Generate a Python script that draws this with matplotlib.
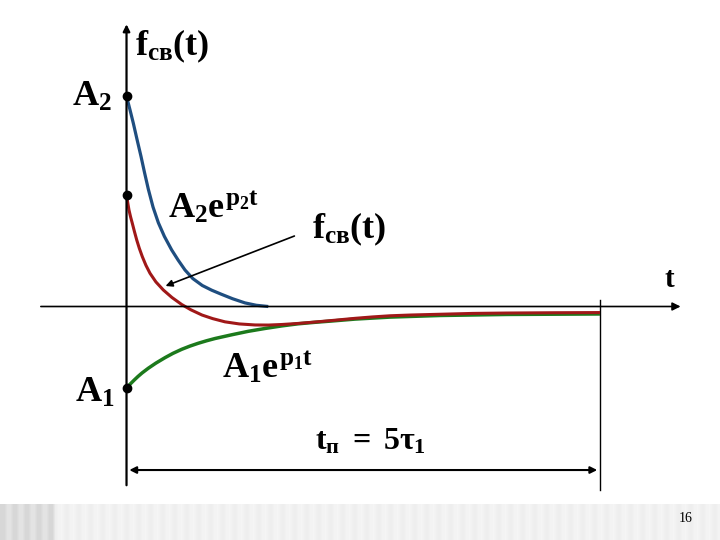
import numpy as np
import matplotlib
matplotlib.use("Agg")
import matplotlib.pyplot as plt

plt.rcParams["font.family"] = ["Liberation Serif", "DejaVu Serif"]
plt.rcParams["mathtext.fontset"] = "custom"
plt.rcParams["mathtext.rm"] = "Liberation Serif:bold"
plt.rcParams["mathtext.it"] = "Liberation Serif:bold"
plt.rcParams["mathtext.bf"] = "Liberation Serif:bold"

# ── curve samples (t in tau_1, f in same units) ──
t_blue = [0.0, 0.036, 0.072, 0.112, 0.153, 0.19, 0.230, 0.28, 0.336, 0.40,
          0.477, 0.545, 0.618, 0.70, 0.80, 0.90, 1.0, 1.12, 1.251, 1.37, 1.497]
f_blue = [2.22, 2.08, 1.935, 1.76, 1.585, 1.415, 1.240, 1.05, 0.885, 0.74,
          0.597, 0.49, 0.385, 0.295, 0.222, 0.172, 0.130, 0.082, 0.038, 0.013, 0.0]

t_red = [0.0, 0.013, 0.026, 0.043, 0.061, 0.084, 0.108, 0.135, 0.167, 0.205,
         0.248, 0.31, 0.389, 0.48, 0.583, 0.68, 0.797, 0.91, 1.040, 1.19,
         1.357, 1.50, 1.642, 1.81, 1.991, 2.2, 2.413, 2.6, 2.783, 3.0,
         3.310, 3.659, 4.018, 4.5, 5.0]
f_red = [1.177, 1.095, 1.019, 0.946, 0.879, 0.79, 0.702, 0.615, 0.526, 0.435,
         0.351, 0.26, 0.174, 0.095, 0.021, -0.035, -0.090, -0.128, -0.162, -0.184,
         -0.195, -0.196, -0.190, -0.179, -0.164, -0.145, -0.125, -0.110, -0.098, -0.090,
         -0.082, -0.073, -0.069, -0.066, -0.064]

t_green = [0.0, 0.04, 0.08, 0.12, 0.164, 0.23, 0.31, 0.407, 0.49, 0.583,
           0.67, 0.755, 0.845, 0.935, 1.114, 1.286, 1.462, 1.639, 1.811, 1.99,
           2.17, 2.413, 2.783, 3.31, 4.018, 5.0]
f_green = [-0.861, -0.818, -0.778, -0.740, -0.702, -0.652, -0.598, -0.540, -0.495, -0.452,
           -0.418, -0.389, -0.362, -0.338, -0.298, -0.262, -0.232, -0.205, -0.183, -0.167,
           -0.153, -0.133, -0.112, -0.095, -0.084, -0.079]

A2, F0, A1 = 2.22, 1.177, -0.861   # start values marked with dots
T_END = 5.0                        # t_п = 5 tau_1

BLUE, RED, GREEN = "#1f4e80", "#a01818", "#1c7a1c"

fig = plt.figure(figsize=(7.2, 5.4), dpi=100)
ax = fig.add_axes([0, 0, 1, 1])
ax.set_xlim(-1.336, 6.267)
ax.set_ylim(-2.466, 3.237)
ax.axis("off")

# axes with arrows
ax.annotate("", xy=(5.88, 0), xytext=(-0.934, 0),
            arrowprops=dict(arrowstyle="-|>", color="k", lw=1.2, mutation_scale=12))
ax.annotate("", xy=(0, 3.01), xytext=(0, -1.917),
            arrowprops=dict(arrowstyle="-|>", color="k", lw=1.6, mutation_scale=10))
ax.plot([T_END, T_END], [0.07, -1.94], color="k", lw=1.0)
ax.annotate("", xy=(T_END, -1.727), xytext=(0.0, -1.727),
            arrowprops=dict(arrowstyle="<|-|>", color="k", lw=1.5, mutation_scale=10))

# curves
ax.plot(t_blue, f_blue, color=BLUE, lw=2.3, solid_capstyle="butt", solid_joinstyle="round")
ax.plot(t_green, f_green, color=GREEN, lw=2.5, solid_capstyle="butt", solid_joinstyle="round")
ax.plot(t_red, f_red, color=RED, lw=2.2, solid_capstyle="butt", solid_joinstyle="round")
ax.plot([0, 0, 0], [A2, F0, A1], "o", color="k", ms=6, zorder=5)

# pointer to the sum curve
ax.annotate("", xy=(0.385, 0.206), xytext=(1.80, 0.755),
            arrowprops=dict(arrowstyle="-|>", color="k", lw=1.2, mutation_scale=10))

# labels
fs = 26
ax.text(0.09, 2.655, r"$f_{св}(t)$", fontsize=fs)
ax.text(-0.575, 2.117, r"$A_2$", fontsize=fs)
ax.text(0.438, 0.935, r"$A_2e^{p_2t}$", fontsize=fs)
ax.text(1.959, 0.723, r"$f_{св}(t)$", fontsize=fs)
ax.text(5.676, 0.206, r"$t$", fontsize=21)
ax.text(1.008, -0.755, r"$A_1e^{p_1t}$", fontsize=fs)
ax.text(-0.544, -1.008, r"$A_1$", fontsize=fs)
ax.text(1.990, -1.515, r"$t_п\;=\;5\tau_1$", fontsize=23)

# slide footer band
band = fig.add_axes([0, 0, 1, 36 / 540])
left = np.tile([0.84, 0.84, 0.89, 0.89], 5)[:18]
right = np.tile([0.93, 0.95, 0.96, 0.94], 60)[:222]
band.imshow(np.concatenate([left, right])[None, :], cmap="gray", vmin=0, vmax=1,
            aspect="auto", interpolation="bilinear")
band.axis("off")
fig.text(686 / 720, 22 / 540, "16", fontsize=10, ha="center", va="center")

fig.savefig("out.png", dpi=100)
